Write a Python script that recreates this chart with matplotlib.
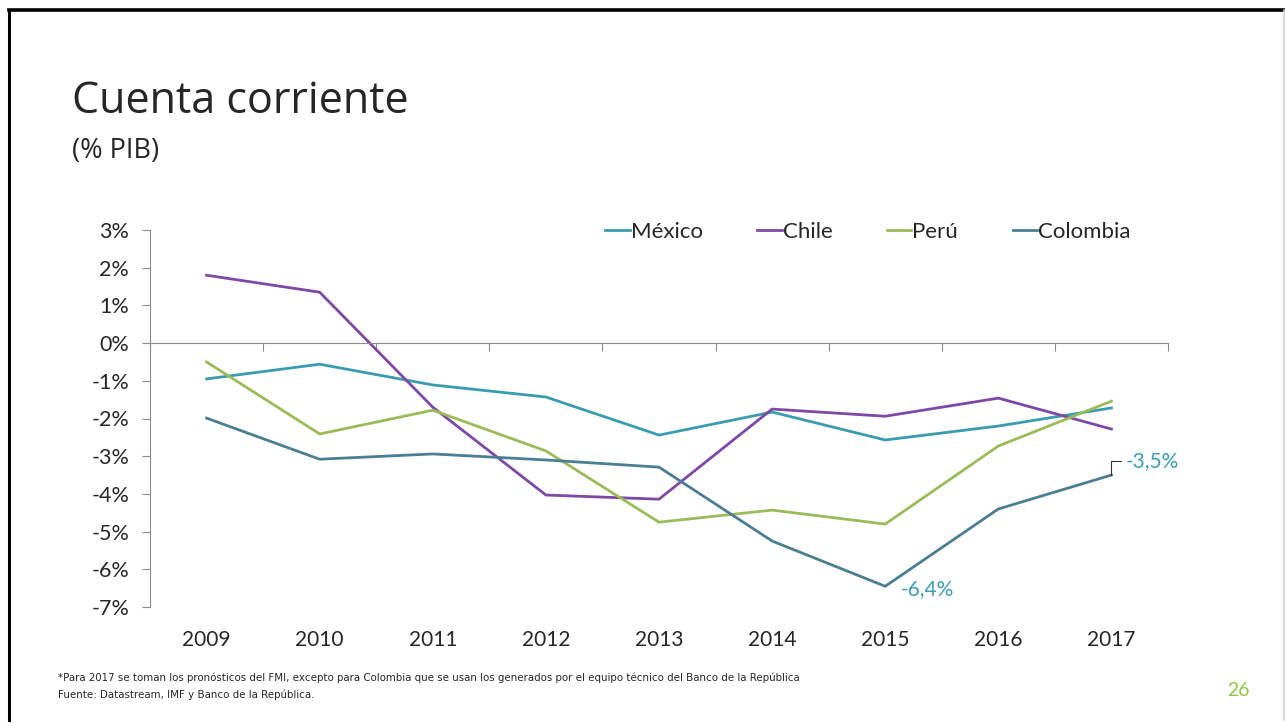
import matplotlib
matplotlib.use('Agg')
import matplotlib.pyplot as plt
from matplotlib.lines import Line2D
import matplotlib.transforms as mtransforms

# Data (% del PIB)
years = ['2009', '2010', '2011', '2012', '2013', '2014', '2015', '2016', '2017']
mexico = [-0.95, -0.56, -1.11, -1.43, -2.44, -1.83, -2.57, -2.20, -1.72]
chile = [1.80, 1.35, -1.70, -4.03, -4.14, -1.75, -1.94, -1.46, -2.28]
peru = [-0.50, -2.41, -1.78, -2.86, -4.75, -4.43, -4.80, -2.73, -1.54]
colombia = [-1.99, -3.08, -2.94, -3.10, -3.29, -5.25, -6.45, -4.40, -3.50]
yticks = [3, 2, 1, 0, -1, -2, -3, -4, -5, -6, -7]

series = [
    ('México', mexico, '#3A9CB0'),
    ('Chile', chile, '#7E48A6'),
    ('Perú', peru, '#9BBB59'),
    ('Colombia', colombia, '#4B7E92'),
]

FONT = 'Lato'
AXIS_GRAY = '#8C8C8C'
TEXT = '#262626'
LABEL = '#3A9DB3'

fig = plt.figure(figsize=(12.85, 7.23), dpi=100)

# slide frame
fig.add_artist(Line2D([0.007, 0.007], [0.004, 0.986], color='black', lw=2.2, transform=fig.transFigure))
fig.add_artist(Line2D([0.007, 0.9995], [0.986, 0.986], color='black', lw=2.6, transform=fig.transFigure))
fig.add_artist(Line2D([0.999, 0.999], [0.004, 0.986], color='#D0D0D0', lw=1.2, transform=fig.transFigure))

# title
fig.text(72 / 1285, 1 - 102 / 723, 'Cuenta corriente', fontsize=31, family='Open Sans',
         color=TEXT, va='center', ha='left')
fig.text(72 / 1285, 1 - 151 / 723, '(% PIB)', fontsize=19.5, family='Open Sans',
         color=TEXT, va='center', ha='left')

ax = fig.add_axes([150 / 1285, 1 - 607 / 723, 1018 / 1285, 377 / 723])
x = list(range(len(years)))
for name, vals, col in series:
    ax.plot(x, vals, color=col, lw=2.0, label=name, solid_joinstyle='miter')

ax.set_xlim(-0.5, len(years) - 0.5)
ax.set_ylim(-7, 3)

for s in ['top', 'right']:
    ax.spines[s].set_visible(False)
ax.spines['left'].set_color(AXIS_GRAY)
ax.spines['bottom'].set_color(AXIS_GRAY)
ax.spines['bottom'].set_position(('data', 0))

ax.set_yticks(yticks)
ax.set_yticklabels([f'{v}%' for v in yticks], family=FONT, fontsize=15.5, color=TEXT)
ax.tick_params(axis='y', direction='out', length=6, color=AXIS_GRAY, pad=9)

ax.set_xticks([i - 0.5 for i in range(len(years) + 1)])
ax.set_xticklabels([])
ax.tick_params(axis='x', direction='out', length=6, color=AXIS_GRAY)

# year labels below the plot area
trans = mtransforms.blended_transform_factory(ax.transData, ax.transAxes)
for i, yr in enumerate(years):
    ax.text(i, -0.087, yr, transform=trans, ha='center', va='center',
            family=FONT, fontsize=15, color=TEXT)

# data labels for Colombia
i15 = years.index('2015')
ax.annotate('-6,4%', xy=(i15, colombia[i15]), xytext=(11, -2), textcoords='offset points',
            ha='left', va='center', family=FONT, fontsize=15, color=LABEL)
i17 = years.index('2017')
ax.annotate(f'{colombia[i17]:.1f}%'.replace('.', ','),
            xy=(i17, colombia[i17]), xytext=(10, 10), textcoords='offset points',
            ha='left', va='center', family=FONT, fontsize=15, color=LABEL,
            arrowprops=dict(arrowstyle='-', color='#333333', lw=0.8,
                            connectionstyle='angle,angleA=0,angleB=90,rad=0',
                            shrinkA=1, shrinkB=0))

leg = ax.legend(loc='upper right', bbox_to_anchor=(0.983, 1.075), ncol=4, frameon=False,
                handlelength=1.1, handletextpad=0.05, columnspacing=2.45,
                prop={'family': FONT, 'size': 16})
for t in leg.get_texts():
    t.set_color(TEXT)

# footnotes
fig.text(58 / 1285, 1 - 678 / 723,
         '*Para 2017 se toman los pronósticos del FMI, excepto para Colombia que se usan los generados por el equipo técnico del Banco de la República',
         fontsize=7.35, family='Liberation Sans Narrow', color=TEXT, va='center', ha='left')
fig.text(58 / 1285, 1 - 695 / 723, 'Fuente: Datastream, IMF y Banco de la República.',
         fontsize=7.35, family='Liberation Sans Narrow', color=TEXT, va='center', ha='left')
fig.text(1238 / 1285, 1 - 690 / 723, '26', fontsize=14, family=FONT, color='#8DC63F',
         va='center', ha='center')

fig.savefig('out.png', dpi=100)
